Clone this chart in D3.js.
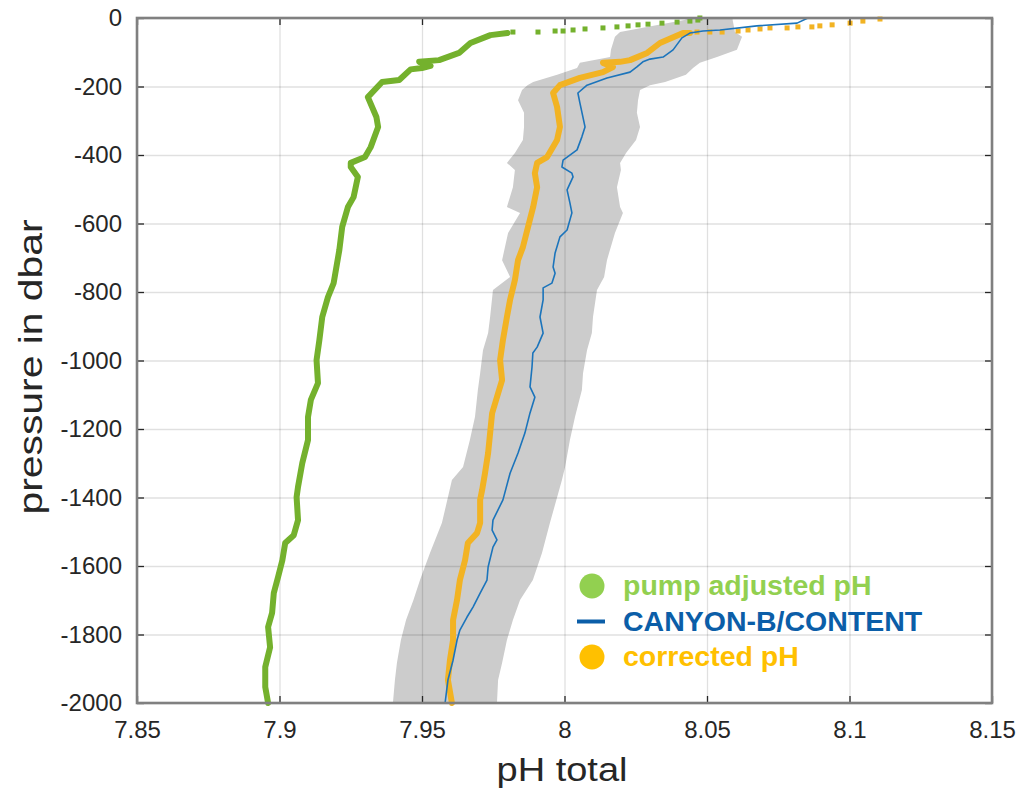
<!DOCTYPE html>
<html>
<head>
<meta charset="utf-8">
<script src="https://cdn.jsdelivr.net/npm/d3@7"></script>
<style>
    body { margin: 0; background: #fff; }
    text { font-family: "Liberation Sans", Arial, sans-serif; }
</style>
</head>
<body>
<div id="chart"></div>
<script>

// axis ticks
let xTicks = [7.85, 7.9, 7.95, 8, 8.05, 8.1, 8.15];
let yTicks = [0, -200, -400, -600, -800, -1000, -1200, -1400, -1600, -1800, -2000];

// pump adjusted pH: sparse points near the surface, then the dense profile [pH, pressure]
let greenSurface = [
    [8.0475, 0], [8.0468, -6], [8.044, -9], [8.0395, -12], [8.0342, -15], [8.0293, -18],
    [8.0258, -20], [8.0223, -23], [8.0184, -26], [8.0135, -29], [8.0072, -32], [8.003, -35],
    [7.9995, -38], [7.9967, -38], [7.9907, -41], [7.9819, -41]
];
let greenProfile = [
    [7.980, -44], [7.974, -50], [7.967, -73], [7.963, -102], [7.956, -123], [7.949, -128],
    [7.953, -140], [7.950, -146], [7.946, -150], [7.942, -181], [7.936, -187], [7.931, -231],
    [7.934, -289], [7.9346, -318], [7.932, -377], [7.930, -406], [7.925, -423], [7.925, -435],
    [7.9275, -464], [7.926, -523], [7.924, -552], [7.922, -610], [7.921, -677], [7.919, -774],
    [7.917, -815], [7.915, -873], [7.914, -940], [7.913, -999], [7.9135, -1066], [7.911, -1115],
    [7.910, -1165], [7.910, -1232], [7.908, -1299], [7.9065, -1369], [7.906, -1399], [7.9065, -1466],
    [7.905, -1510], [7.902, -1533], [7.901, -1583], [7.8995, -1632], [7.898, -1679], [7.8974, -1737],
    [7.896, -1778], [7.8967, -1837], [7.895, -1895], [7.895, -1953], [7.896, -2000]
];

// corrected pH
let orangeSurface = [
    [8.1107, -3], [8.1047, -9], [8.1002, -15], [8.0939, -20], [8.0896, -23], [8.0868, -26],
    [8.0819, -26], [8.0781, -29], [8.0721, -29], [8.0686, -32], [8.0644, -35], [8.0609, -38],
    [8.0553, -41], [8.051, -41], [8.0465, -41]
];
let orangeProfile = [
    [8.044, -44], [8.0416, -44], [8.0335, -73], [8.029, -102], [8.023, -123], [8.0195, -128],
    [8.0135, -131], [8.017, -143], [8.0135, -158], [8.0054, -175], [7.9984, -196], [7.996, -219],
    [7.9974, -260], [7.9984, -318], [7.9974, -356], [7.9939, -406], [7.9904, -423], [7.9896, -453],
    [7.9904, -494], [7.989, -552], [7.9872, -610], [7.9854, -669], [7.9837, -707], [7.9826, -765],
    [7.9809, -823], [7.9798, -873], [7.9784, -940], [7.9774, -999], [7.9781, -1057], [7.9763, -1107],
    [7.9746, -1154], [7.9739, -1212], [7.9732, -1270], [7.9721, -1329], [7.9711, -1378], [7.9704, -1407],
    [7.9704, -1474], [7.9693, -1504], [7.9661, -1533], [7.9651, -1583], [7.9633, -1641], [7.9623, -1699],
    [7.9609, -1758], [7.9609, -1816], [7.9598, -1875], [7.9591, -1933], [7.9605, -2000]
];

// CANYON-B/CONTENT estimate
let canyonProfile = [
    [8.0854, 0], [8.0816, -15], [8.0675, -23], [8.0546, -35], [8.0486, -38], [8.044, -44],
    [8.0412, -58], [8.0381, -93], [8.0346, -114], [8.030, -120], [8.0275, -128], [8.0254, -143],
    [8.023, -158], [8.0149, -175], [8.0079, -196], [8.0047, -219], [8.0054, -248], [8.0072, -318],
    [8.0061, -347], [8.0044, -385], [7.9995, -415], [7.9991, -435], [8.0026, -453], [8.003, -464],
    [8.0009, -502], [8.0019, -540], [8.0026, -569], [8.0009, -619], [7.9984, -639], [7.9967, -686],
    [7.996, -727], [7.9967, -745], [7.9956, -774], [7.9925, -788], [7.9925, -823], [7.9914, -873],
    [7.9925, -920], [7.9904, -961], [7.9889, -978], [7.9886, -1019], [7.9879, -1077], [7.9896, -1107],
    [7.9879, -1153], [7.9861, -1212], [7.9837, -1270], [7.9809, -1329], [7.9784, -1407], [7.9749, -1466],
    [7.9746, -1495], [7.9763, -1524], [7.9749, -1545], [7.9732, -1603], [7.9728, -1641], [7.9704, -1679],
    [7.9679, -1720], [7.9658, -1749], [7.9633, -1787], [7.9623, -1816], [7.9609, -1875], [7.9591, -1933],
    [7.9581, -2000]
];

// uncertainty band [pressure, low pH, high pH]
let bandEdges = [
    [0, 8.044, 8.059], [-6, 8.042, 8.059], [-41, 8.0195, 8.0598], [-55, 8.0177, 8.0623],
    [-93, 8.0163, 8.0605], [-114, 8.016, 8.0535], [-131, 8.0054, 8.0475], [-146, 8.0044, 8.0451],
    [-166, 7.9974, 8.0426], [-187, 7.989, 8.0353], [-196, 7.987, 8.030], [-210, 7.9851, 8.0265],
    [-240, 7.9837, 8.0258], [-277, 7.9858, 8.0254], [-318, 7.9858, 8.0265], [-356, 7.9854, 8.0251],
    [-394, 7.9826, 8.0216], [-423, 7.9798, 8.0195], [-444, 7.9826, 8.0198], [-494, 7.9819, 8.0184],
    [-552, 7.9798, 8.0195], [-569, 7.9844, 8.0205], [-628, 7.9802, 8.0177], [-707, 7.9781, 8.0149],
    [-756, 7.9809, 8.0139], [-794, 7.9749, 8.0114], [-873, 7.9739, 8.010], [-920, 7.9732, 8.0096],
    [-970, 7.9714, 8.0079], [-1037, 7.9704, 8.0065], [-1086, 7.9696, 8.0061], [-1164, 7.9686, 8.0037],
    [-1232, 7.9668, 8.0019], [-1311, 7.9644, 8.0002], [-1349, 7.9605, 7.9991], [-1474, 7.957, 7.9949],
    [-1562, 7.9528, 7.9921], [-1641, 7.9493, 7.9889], [-1699, 7.947, 7.9844], [-1758, 7.9444, 7.9819],
    [-1816, 7.9426, 7.9798], [-1883, 7.9412, 7.9781], [-1933, 7.9405, 7.9767], [-2000, 7.9398, 7.9763]
];

let legendItems = [
    { label: "pump adjusted pH", color: "#92d050", type: "dot" },
    { label: "CANYON-B/CONTENT", color: "#0b5ea8", type: "line" },
    { label: "corrected pH", color: "#ffc000", type: "dot" }
];


var margin = { top: 18, right: 27, bottom: 89, left: 137 };
var svgWidth = 1019;
var svgHeight = 792;
var width = svgWidth - margin.left - margin.right;
var height = svgHeight - margin.top - margin.bottom;

var svg = d3.select("#chart")
    .append("svg")
    .attr("width", svgWidth)
    .attr("height", svgHeight);

var g = svg.append("g")
    .attr("transform", `translate(${margin.left},${margin.top})`);

var x = d3.scaleLinear().domain([7.85, 8.15]).range([0, width]);
var y = d3.scaleLinear().domain([0, -2000]).range([0, height]);

// plain hyphen for negative numbers, like the original
var tickFmt = d => String(d);

// gray band first
g.append("path")
    .datum(bandEdges)
    .attr("fill", "#cccccc")
    .attr("d", d3.area()
        .y(d => y(d[0]))
        .x0(d => x(d[1]))
        .x1(d => x(d[2])));

// grid
g.append("g")
    .attr("class", "grid")
    .call(d3.axisBottom(x).tickValues(xTicks).tickSize(height).tickFormat(""))
    .call(a => a.select(".domain").remove());
g.append("g")
    .attr("class", "grid")
    .call(d3.axisLeft(y).tickValues(yTicks).tickSize(-width).tickFormat(""))
    .call(a => a.select(".domain").remove());
g.selectAll(".grid line")
    .attr("stroke", "#000")
    .attr("stroke-opacity", 0.12)
    .attr("stroke-width", 1.3);

var line = d3.line().x(d => x(d[0])).y(d => y(d[1]));

// pump adjusted pH
g.append("path")
    .datum(greenProfile)
    .attr("fill", "none")
    .attr("stroke", "#74b12d")
    .attr("stroke-width", 6)
    .attr("stroke-linejoin", "round")
    .attr("stroke-linecap", "round")
    .attr("d", line);
g.selectAll(".greenDot")
    .data(greenSurface)
    .join("rect")
    .attr("class", "greenDot")
    .attr("x", d => x(d[0]) - 2.5)
    .attr("y", d => y(d[1]) - 2.5)
    .attr("width", 5)
    .attr("height", 5)
    .attr("fill", "#74b12d");

// corrected pH
g.append("path")
    .datum(orangeProfile)
    .attr("fill", "none")
    .attr("stroke", "#f2b323")
    .attr("stroke-width", 6)
    .attr("stroke-linejoin", "round")
    .attr("stroke-linecap", "round")
    .attr("d", line);
g.selectAll(".orangeDot")
    .data(orangeSurface)
    .join("rect")
    .attr("class", "orangeDot")
    .attr("x", d => x(d[0]) - 2.5)
    .attr("y", d => y(d[1]) - 2.5)
    .attr("width", 5)
    .attr("height", 5)
    .attr("fill", "#f2b323");

// CANYON-B line on top
g.append("path")
    .datum(canyonProfile)
    .attr("fill", "none")
    .attr("stroke", "#1b74bb")
    .attr("stroke-width", 1.6)
    .attr("stroke-linejoin", "round")
    .attr("d", line);

// axes, MATLAB style ticks pointing inwards
g.append("g")
    .attr("class", "x-axis axis")
    .attr("transform", `translate(0,${height})`)
    .call(d3.axisBottom(x).tickValues(xTicks).tickSize(-7).tickPadding(18).tickFormat(tickFmt));
g.append("g")
    .attr("class", "y-axis axis")
    .call(d3.axisLeft(y).tickValues(yTicks).tickSize(-7).tickPadding(15).tickFormat(tickFmt));
g.append("g")
    .attr("class", "axis")
    .call(d3.axisTop(x).tickValues(xTicks).tickSize(-7).tickFormat(""));
g.append("g")
    .attr("class", "axis")
    .attr("transform", `translate(${width},0)`)
    .call(d3.axisRight(y).tickValues(yTicks).tickSize(-7).tickFormat(""));

g.selectAll(".axis .domain").remove();
g.selectAll(".axis line").attr("stroke", "#262626").attr("stroke-width", 1.3);
g.selectAll(".axis text")
    .attr("fill", "#262626")
    .style("font-size", "24px");

// frame
g.append("rect")
    .attr("width", width)
    .attr("height", height)
    .attr("fill", "none")
    .attr("stroke", "#808080")
    .attr("stroke-width", 2.6);

// axis labels
svg.append("text")
    .attr("x", 562)
    .attr("y", 781)
    .attr("text-anchor", "middle")
    .attr("fill", "#262626")
    .attr("textLength", 131)
    .attr("lengthAdjust", "spacingAndGlyphs")
    .style("font-size", "33px")
    .text("pH total");

svg.append("text")
    .attr("transform", "translate(42,367) rotate(-90)")
    .attr("text-anchor", "middle")
    .attr("fill", "#262626")
    .attr("textLength", 295)
    .attr("lengthAdjust", "spacingAndGlyphs")
    .style("font-size", "34px")
    .text("pressure in dbar");

// legend
var legend = svg.append("g").attr("transform", "translate(577,586)");
var items = legend.selectAll(".legendItem")
    .data(legendItems)
    .join("g")
    .attr("class", "legendItem")
    .attr("transform", (d, i) => `translate(0,${i * 35.5})`);

items.filter(d => d.type === "dot")
    .append("circle")
    .attr("cx", 15)
    .attr("cy", 0)
    .attr("r", 12.5)
    .attr("fill", d => d.color);
items.filter(d => d.type === "line")
    .append("line")
    .attr("x1", 0)
    .attr("x2", 28)
    .attr("y1", 0)
    .attr("y2", 0)
    .attr("stroke", d => d.color)
    .attr("stroke-width", 4);
items.append("text")
    .attr("x", 46)
    .attr("y", 9)
    .attr("fill", d => d.color)
    .style("font-size", "28.5px")
    .style("font-weight", "bold")
    .text(d => d.label);

</script>
</body>
</html>
